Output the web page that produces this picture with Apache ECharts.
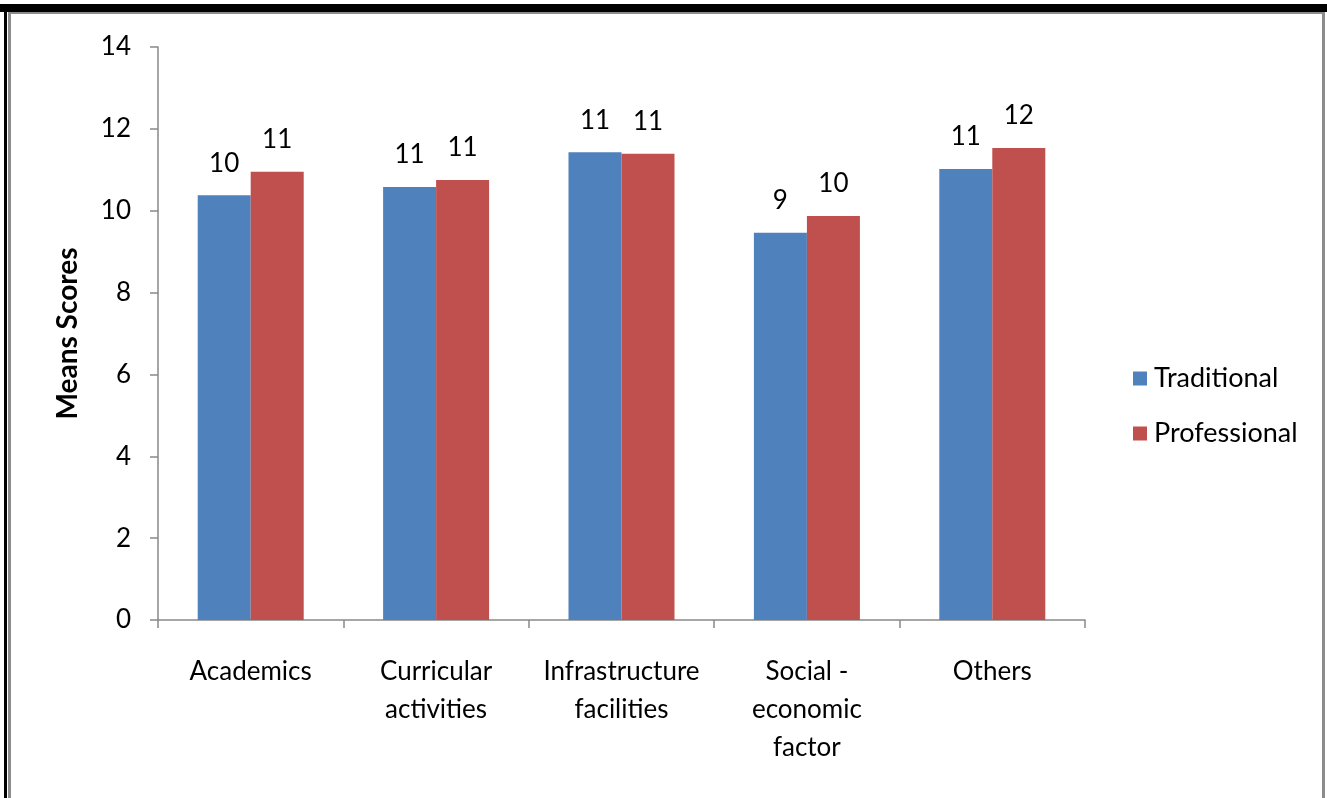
<!DOCTYPE html>
<html>
<head>
<meta charset="utf-8">
<script src="https://cdn.jsdelivr.net/npm/echarts@6/dist/echarts.min.js"></script>
<style>
html,body{margin:0;padding:0;background:#fff;}
#c{width:1327px;height:798px;}
</style>
</head>
<body>
<div id="c"></div>
<script>
const categories = ['Academics', 'Curricular\nactivities', 'Infrastructure\nfacilities', 'Social -\neconomic\nfactor', 'Others'];
const traditional = [10.38, 10.58, 11.43, 9.46, 11.02];
const professional = [10.95, 10.75, 11.39, 9.87, 11.53];
const yTicks = [0, 2, 4, 6, 8, 10, 12, 14];

const FONT = 'Lato, "Open Sans", sans-serif';
const chart = echarts.init(document.getElementById('c'), null, {renderer: 'canvas'});
const labelCfg = {
  show: true, position: 'top', distance: 19,
  fontFamily: FONT, fontSize: 26, color: '#000',
  formatter: p => Math.round(p.value)
};
chart.setOption({
  animation: false,
  backgroundColor: '#fff',
  grid: {left: 158, right: 242, top: 47, bottom: 178},
  legend: {
    orient: 'vertical', left: 1128, top: 360,
    itemWidth: 14, itemHeight: 14, itemGap: 28,
    icon: 'rect',
    textStyle: {fontFamily: FONT, fontSize: 27, color: '#000', padding: [0, 0, 0, 2]},
    data: ['Traditional', 'Professional']
  },
  xAxis: {
    type: 'category', data: categories,
    axisLine: {lineStyle: {color: '#898989', width: 1.5}},
    axisTick: {show: true, length: 8, alignWithLabel: false, lineStyle: {color: '#898989', width: 1.5}},
    axisLabel: {fontFamily: FONT, fontSize: 26, color: '#000', margin: 33, lineHeight: 38, interval: 0}
  },
  yAxis: {
    type: 'value', min: 0, max: 14, interval: 2,
    name: 'Means Scores', nameLocation: 'middle', nameGap: 76,
    nameTextStyle: {fontFamily: FONT, fontSize: 28, fontWeight: 'bold', color: '#000'},
    axisLine: {show: true, lineStyle: {color: '#898989', width: 1.5}},
    axisTick: {show: true, length: 8, lineStyle: {color: '#898989', width: 1.5}},
    splitLine: {show: false},
    axisLabel: {fontFamily: FONT, fontSize: 26, color: '#000', margin: 27,
      formatter: v => yTicks.includes(v) ? String(v) : ''}
  },
  series: [
    {name: 'Traditional', type: 'bar', data: traditional, barWidth: 53, barGap: '0%',
      itemStyle: {color: '#4F81BD'}, label: labelCfg},
    {name: 'Professional', type: 'bar', data: professional, barWidth: 53, barGap: '0%',
      itemStyle: {color: '#C0504D'}, label: labelCfg}
  ],
  graphic: [
    {type: 'rect', shape: {x: 0, y: 4, width: 1327, height: 8}, style: {fill: '#000'}, z: 100},
    {type: 'rect', shape: {x: 4, y: 10, width: 3, height: 788}, style: {fill: '#000'}, z: 100},
    {type: 'rect', shape: {x: 8, y: 12, width: 3, height: 786}, style: {fill: '#8c8c8c'}, z: 100},
    {type: 'rect', shape: {x: 8, y: 12, width: 1317, height: 2}, style: {fill: '#8c8c8c'}, z: 100},
    {type: 'rect', shape: {x: 1322, y: 12, width: 3, height: 786}, style: {fill: '#8c8c8c'}, z: 100}
  ]
});
</script>
</body>
</html>
